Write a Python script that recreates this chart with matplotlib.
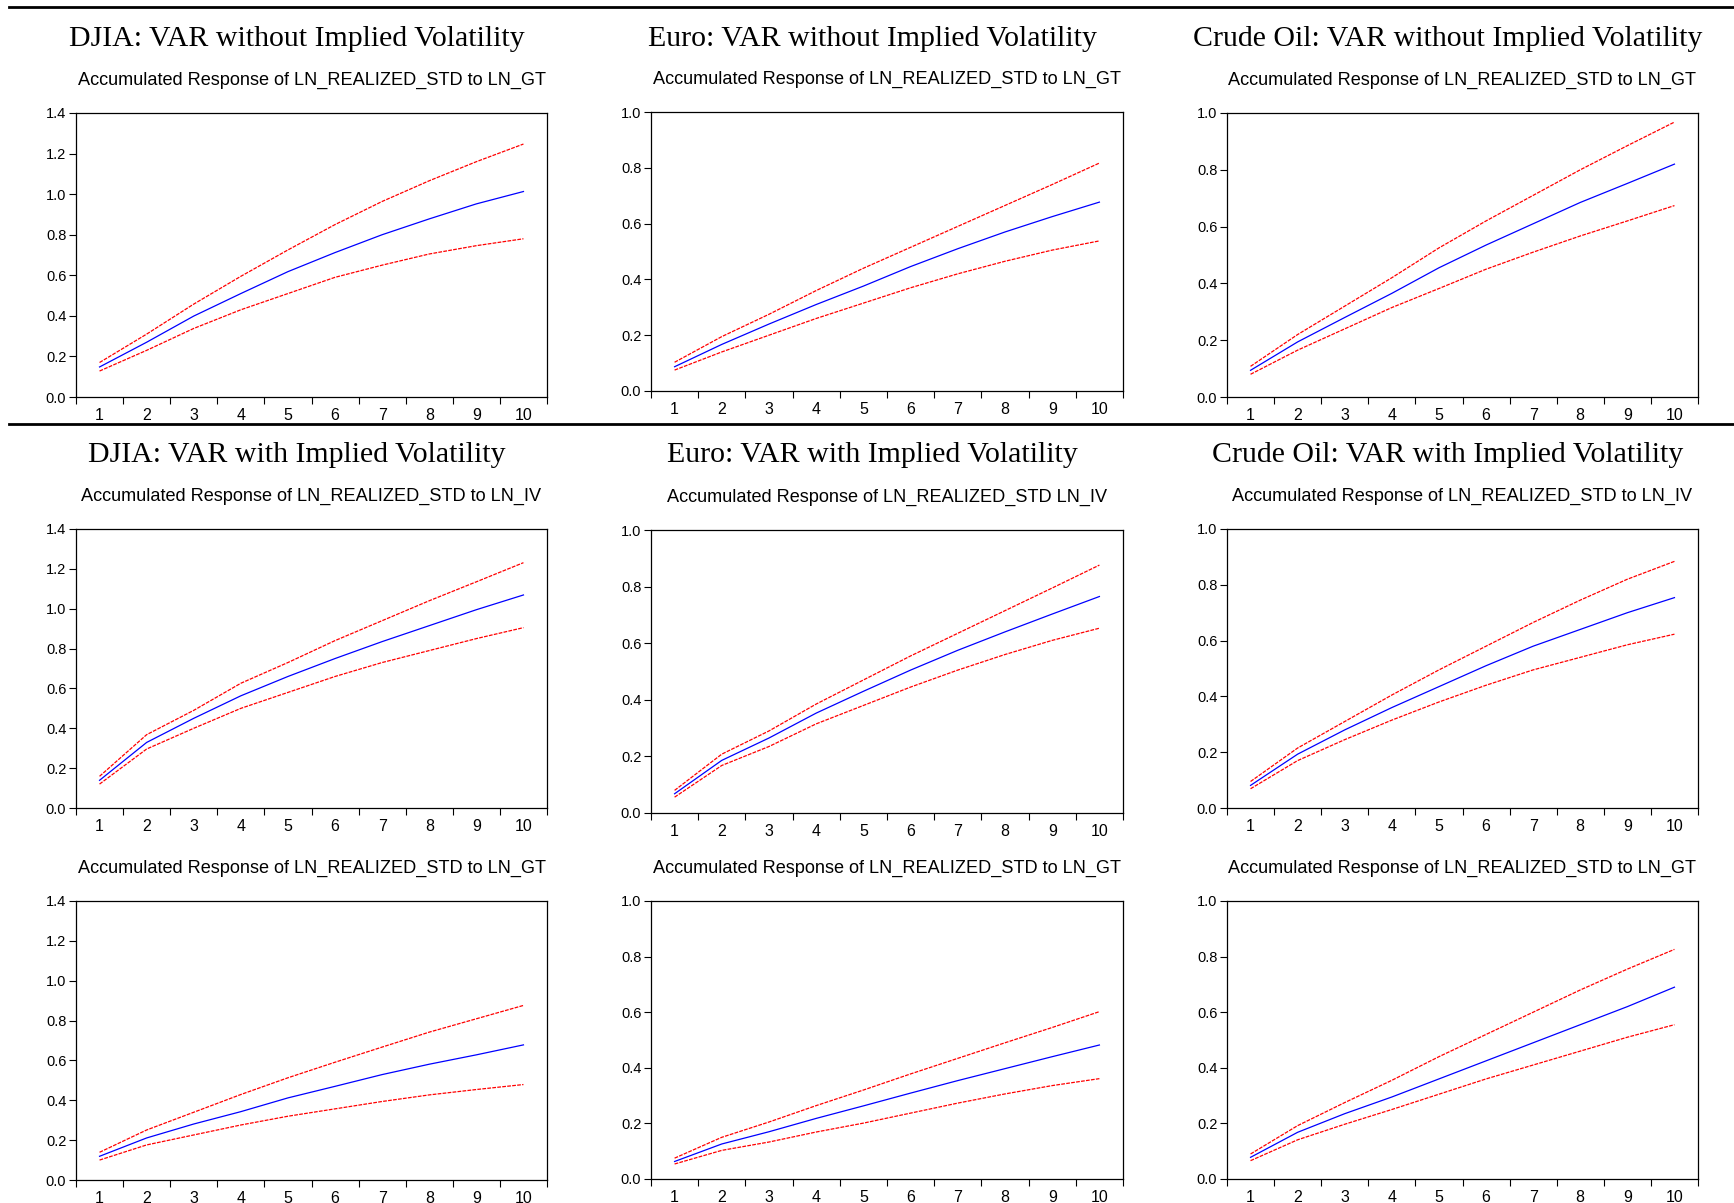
import matplotlib
matplotlib.use('Agg')
import matplotlib.pyplot as plt
from matplotlib.lines import Line2D
from matplotlib.ticker import MultipleLocator, FixedLocator, FormatStrFormatter

# horizon (periods)
steps = [1, 2, 3, 4, 5, 6, 7, 8, 9, 10]

# DJIA, VAR without IV : response to LN_GT
djia_a_mid = [0.148, 0.27, 0.399, 0.51, 0.618, 0.712, 0.80, 0.878, 0.952, 1.013]
djia_a_hi = [0.17, 0.31, 0.458, 0.595, 0.725, 0.85, 0.964, 1.066, 1.16, 1.247]
djia_a_lo = [0.128, 0.23, 0.338, 0.43, 0.51, 0.59, 0.65, 0.705, 0.746, 0.78]

# Euro, VAR without IV : response to LN_GT
euro_a_mid = [0.087, 0.167, 0.24, 0.31, 0.376, 0.446, 0.51, 0.57, 0.625, 0.677]
euro_a_hi = [0.103, 0.195, 0.275, 0.36, 0.44, 0.515, 0.59, 0.665, 0.74, 0.817]
euro_a_lo = [0.075, 0.14, 0.20, 0.26, 0.315, 0.37, 0.42, 0.465, 0.505, 0.538]

# Crude oil, VAR without IV : response to LN_GT
oil_a_mid = [0.094, 0.194, 0.28, 0.365, 0.455, 0.535, 0.61, 0.685, 0.752, 0.82]
oil_a_hi = [0.108, 0.22, 0.32, 0.42, 0.525, 0.62, 0.71, 0.80, 0.885, 0.968]
oil_a_lo = [0.08, 0.165, 0.24, 0.315, 0.382, 0.45, 0.51, 0.567, 0.62, 0.674]

# DJIA, VAR with IV : response to LN_IV
djia_b_mid = [0.139, 0.329, 0.45, 0.563, 0.66, 0.75, 0.835, 0.915, 0.995, 1.069]
djia_b_hi = [0.159, 0.368, 0.49, 0.626, 0.73, 0.84, 0.94, 1.04, 1.135, 1.231]
djia_b_lo = [0.12, 0.296, 0.40, 0.50, 0.58, 0.66, 0.73, 0.79, 0.85, 0.905]

# Euro, VAR with IV : response to LN_IV
euro_b_mid = [0.068, 0.186, 0.265, 0.353, 0.43, 0.505, 0.575, 0.64, 0.703, 0.765]
euro_b_hi = [0.08, 0.208, 0.29, 0.385, 0.47, 0.555, 0.635, 0.715, 0.795, 0.876]
euro_b_lo = [0.056, 0.168, 0.235, 0.315, 0.38, 0.445, 0.505, 0.56, 0.61, 0.653]

# Crude oil, VAR with IV : response to LN_IV
oil_b_mid = [0.081, 0.193, 0.28, 0.36, 0.435, 0.51, 0.58, 0.64, 0.70, 0.754]
oil_b_hi = [0.095, 0.215, 0.31, 0.405, 0.495, 0.58, 0.665, 0.745, 0.82, 0.884]
oil_b_lo = [0.069, 0.17, 0.245, 0.315, 0.38, 0.44, 0.495, 0.54, 0.585, 0.623]

# DJIA, VAR with IV : response to LN_GT
djia_c_mid = [0.119, 0.211, 0.281, 0.343, 0.412, 0.47, 0.529, 0.581, 0.628, 0.678]
djia_c_hi = [0.139, 0.251, 0.34, 0.429, 0.513, 0.591, 0.667, 0.742, 0.809, 0.876]
djia_c_lo = [0.10, 0.176, 0.226, 0.276, 0.32, 0.357, 0.394, 0.427, 0.454, 0.479]

# Euro, VAR with IV : response to LN_GT
euro_c_mid = [0.063, 0.126, 0.17, 0.218, 0.263, 0.309, 0.354, 0.397, 0.44, 0.482]
euro_c_hi = [0.075, 0.15, 0.205, 0.264, 0.32, 0.378, 0.434, 0.49, 0.545, 0.602]
euro_c_lo = [0.054, 0.103, 0.133, 0.169, 0.201, 0.237, 0.273, 0.306, 0.336, 0.361]

# Crude oil, VAR with IV : response to LN_GT
oil_c_mid = [0.078, 0.168, 0.235, 0.295, 0.36, 0.425, 0.49, 0.555, 0.62, 0.69]
oil_c_hi = [0.09, 0.192, 0.275, 0.355, 0.44, 0.52, 0.60, 0.68, 0.755, 0.826]
oil_c_lo = [0.066, 0.141, 0.197, 0.25, 0.305, 0.36, 0.41, 0.46, 0.51, 0.555]

sub_gt = 'Accumulated Response of LN_REALIZED_STD to LN_GT'
sub_iv = 'Accumulated Response of LN_REALIZED_STD to LN_IV'
sub_iv_euro = 'Accumulated Response of LN_REALIZED_STD LN_IV'

titles = [
    'DJIA: VAR without Implied Volatility',
    'Euro: VAR without Implied Volatility',
    'Crude Oil: VAR without Implied Volatility',
    'DJIA: VAR with Implied Volatility',
    'Euro: VAR with Implied Volatility',
    'Crude Oil: VAR with Implied Volatility',
]

panels = [
    (djia_a_mid, djia_a_hi, djia_a_lo, sub_gt, 1.4),
    (euro_a_mid, euro_a_hi, euro_a_lo, sub_gt, 1.0),
    (oil_a_mid, oil_a_hi, oil_a_lo, sub_gt, 1.0),
    (djia_b_mid, djia_b_hi, djia_b_lo, sub_iv, 1.4),
    (euro_b_mid, euro_b_hi, euro_b_lo, sub_iv_euro, 1.0),
    (oil_b_mid, oil_b_hi, oil_b_lo, sub_iv, 1.0),
    (djia_c_mid, djia_c_hi, djia_c_lo, sub_gt, 1.4),
    (euro_c_mid, euro_c_hi, euro_c_lo, sub_gt, 1.0),
    (oil_c_mid, oil_c_hi, oil_c_lo, sub_gt, 1.0),
]

W, H = 1734, 1203
fig = plt.figure(figsize=(W / 100, H / 100), dpi=100)

# axes boxes in pixels: left/right per column, top/bottom per panel
cols = [(76, 547), (651, 1123), (1227, 1698)]
rows = [[(113, 397), (112, 391), (113, 397)],
        [(529, 808), (530, 813), (529, 808)],
        [(901, 1180), (901, 1179), (901, 1179)]]

for i, (mid, hi, lo, sub, ymax) in enumerate(panels):
    r, c = divmod(i, 3)
    left, right = cols[c]
    top, bottom = rows[r][c]
    ax = fig.add_axes([left / W, 1 - bottom / H, (right - left) / W, (bottom - top) / H])
    ax.plot(steps, hi, color='#ff0000', lw=0.9, dashes=(3, 1))
    ax.plot(steps, lo, color='#ff0000', lw=0.9, dashes=(3, 1))
    ax.plot(steps, mid, color='#0000ff', lw=0.9)
    ax.set_xlim(0.5, 10.5)
    ax.set_ylim(0, ymax)
    ax.yaxis.set_major_locator(MultipleLocator(0.2))
    ax.yaxis.set_major_formatter(FormatStrFormatter('%.1f'))
    ax.xaxis.set_major_locator(FixedLocator(steps))
    ax.xaxis.set_minor_locator(FixedLocator([s + 0.5 for s in range(0, 11)]))
    ax.tick_params(axis='x', which='major', length=0, pad=8, labelsize=11.5)
    ax.tick_params(axis='x', which='minor', length=5, width=0.8, direction='out')
    ax.tick_params(axis='y', which='major', length=5, width=0.8, direction='out',
                   pad=2, labelsize=10.5)
    for lab in ax.get_xticklabels() + ax.get_yticklabels():
        lab.set_family('Liberation Sans')
    for sp in ax.spines.values():
        sp.set_linewidth(0.9)
    ax.set_title(sub, fontsize=13.1, family='Liberation Sans', pad=20.5)

# big serif headings
title_x = [297, 872, 1448]
title_y = [38.5, 455]
for i, t in enumerate(titles):
    r, c = divmod(i, 3)
    fig.text(title_x[c] / W, 1 - title_y[r] / H, t, ha='center', va='center',
             family='Liberation Serif', fontsize=21.5)

# separator rules
for y in [7, 424]:
    fig.add_artist(Line2D([9 / W, 1], [1 - y / H, 1 - y / H], color='black', lw=2))

fig.savefig('out.png', dpi=100)
